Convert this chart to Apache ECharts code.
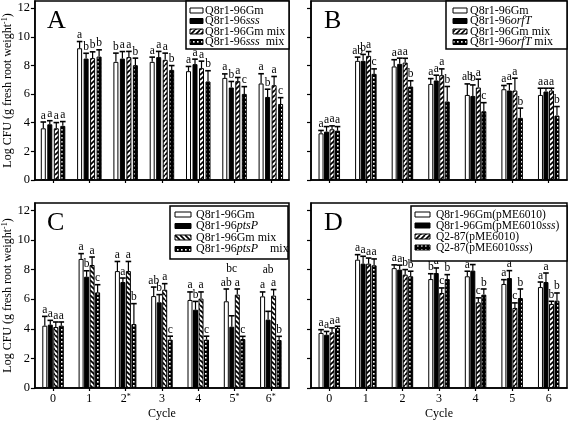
<!DOCTYPE html>
<html><head><meta charset="utf-8">
<script src="https://cdn.jsdelivr.net/npm/echarts@6/dist/echarts.min.js"></script>
<style>html,body{margin:0;padding:0;background:#fff}#c{width:568px;height:421px}</style>
</head><body><div id="c"></div>
<script>
// ---------- DATA ----------
const cycles = ['0','1','2','3','4','5','6'];
const cyclesC = ['0','1','2*','3','4','5*','6*'];
const yTicks = [0,2,4,6,8,10,12];

// Panel A
const A_gm      = [3.61, 9.20, 8.25, 8.25, 7.60, 7.13, 6.74];
const A_sss     = [3.89, 8.48, 8.48, 8.58, 8.09, 6.46, 5.80];
const A_gmMix   = [3.61, 8.51, 8.58, 8.39, 7.81, 6.90, 6.62];
const A_sssMix  = [3.78, 8.62, 8.02, 7.69, 6.88, 6.01, 5.31];
const A_gm_err     = [0.44, 0.47, 0.61, 0.33, 0.33, 0.28, 0.68];
const A_sss_err    = [0.25, 0.37, 0.49, 0.40, 0.35, 0.42, 0.54];
const A_gmMix_err  = [0.40, 0.44, 0.40, 0.47, 0.49, 0.26, 0.61];
const A_sssMix_err = [0.30, 0.47, 0.49, 0.30, 0.75, 0.51, 0.44];
const A_gm_let     = ['a','a','b','a','a','a','a'];
const A_sss_let    = ['a','b','a','a','a','b','b'];
const A_gmMix_let  = ['a','b','a','a','a','a','a'];
const A_sssMix_let = ['a','b','b','b','b','c','c'];

// Panel B
const B_gm      = [3.26, 8.32, 7.93, 6.71, 5.94, 6.34, 5.94];
const B_orf     = [3.38, 8.32, 8.11, 6.95, 5.87, 6.25, 6.18];
const B_gmMix   = [3.54, 8.67, 8.20, 7.32, 6.46, 6.25, 6.25];
const B_orfMix  = [3.45, 7.41, 6.53, 5.48, 4.80, 4.34, 4.50];
const B_gm_err     = [0.20, 0.26, 0.47, 0.37, 0.77, 0.26, 0.47];
const B_orf_err    = [0.35, 0.45, 0.40, 0.37, 0.77, 0.47, 0.23];
const B_gmMix_err  = [0.24, 0.30, 0.30, 0.44, 0.58, 0.86, 0.16];
const B_orfMix_err = [0.28, 0.35, 0.40, 1.05, 0.60, 0.68, 0.63];
const B_gm_let     = ['a','ab','a','a','ab','a','a'];
const B_orf_let    = ['a','b','a','a','b','a','a'];
const B_gmMix_let  = ['a','a','a','a','a','a','a'];
const B_orfMix_let = ['a','c','b','b','c','b','b'];

// Panel C
const C_gm      = [4.21, 8.72, 7.90, 6.21, 5.95, 5.86, 6.19];
const C_pts     = [4.28, 7.52, 7.16, 5.79, 5.29, 4.14, 4.62];
const C_gmMix   = [4.12, 8.31, 7.90, 6.64, 6.04, 6.31, 6.24];
const C_ptsMix  = [4.21, 6.46, 4.32, 3.27, 3.27, 3.31, 3.24];
const C_gm_err     = [0.63, 0.36, 0.65, 0.61, 0.54, 0.83, 0.30];
const C_pts_err    = [0.29, 0.40, 0.27, 0.52, 0.56, 0.74, 0.56];
const C_gmMix_err  = [0.34, 0.54, 0.65, 0.41, 0.45, 0.38, 0.41];
const C_ptsMix_err = [0.25, 0.52, 1.38, 0.23, 0.23, 0.18, 0.25];
const C_gm_let     = ['a','a','a','ab','a','ab','a'];
const C_pts_let    = ['a','b','a','b','b','bc','ab'];
const C_gmMix_let  = ['a','a','a','a','a','a','a'];
const C_ptsMix_let = ['a','c','b','c','c','c','b'];

// Panel D
const D_gm      = [3.72, 8.67, 8.10, 7.36, 7.55, 7.03, 6.82];
const D_gmSss   = [3.60, 8.40, 8.00, 7.77, 7.93, 7.43, 7.16];
const D_q2      = [3.76, 8.40, 7.66, 6.42, 5.79, 5.41, 5.68];
const D_q2Sss   = [4.05, 8.29, 7.55, 7.36, 6.31, 6.08, 5.90];
const D_gm_err     = [0.22, 0.34, 0.22, 0.36, 0.34, 0.29, 0.34];
const D_gmSss_err  = [0.22, 0.50, 0.30, 0.34, 0.41, 0.50, 0.61];
const D_q2_err     = [0.30, 0.38, 0.34, 0.34, 0.30, 0.34, 0.18];
const D_q2Sss_err  = [0.12, 0.43, 0.34, 0.30, 0.38, 0.61, 0.52];
const D_gm_let     = ['a','a','a','b','a','a','a'];
const D_gmSss_let  = ['a','a','a','a','a','a','a'];
const D_q2_let     = ['a','a','b','c','c','c','b'];
const D_q2Sss_let  = ['a','a','b','b','b','b','b'];

// ---------- STYLE / LAYOUT ----------
const FF = '"Liberation Serif","Times New Roman",serif';
function hatch(dir){
  const s = 5, c = document.createElement('canvas'); c.width = s; c.height = s;
  const g = c.getContext('2d'); g.fillStyle = '#fff'; g.fillRect(0,0,s,s);
  g.strokeStyle = '#000'; g.lineWidth = 1.7; g.beginPath();
  if (dir > 0) { for (let o=-s; o<=s; o+=s){ g.moveTo(o, s); g.lineTo(o+s, 0); } }
  else { for (let o=-s; o<=s; o+=s){ g.moveTo(o, 0); g.lineTo(o+s, s); } }
  g.stroke(); return c;
}
function dots(){
  const c = document.createElement('canvas'); c.width = 4; c.height = 4;
  const g = c.getContext('2d'); g.fillStyle = '#000'; g.fillRect(0,0,4,4);
  g.fillStyle = '#fff'; g.fillRect(1,1,1.6,1.6); return c;
}
const PAT_H = {image: hatch(1), repeat: 'repeat'};
const PAT_HB = {image: hatch(-1), repeat: 'repeat'};
const PAT_D = {image: dots(), repeat: 'repeat'};

const panels = [
  { key:'A', grid:{left:34, top:1, width:255, height:179}, cats:cycles, showX:false, showY:true, gap:0.3,
    vals:[A_gm,A_sss,A_gmMix,A_sssMix], errs:[A_gm_err,A_sss_err,A_gmMix_err,A_sssMix_err],
    lets:[A_gm_let,A_sss_let,A_gmMix_let,A_sssMix_let], fills:['#fff','#000',PAT_H,PAT_D],
    legend:{box:[186,1,103,48], sw:[190,13], tx:205, rows:[10.5,21,31.5,42], fs:12,
      texts:['Q8r1-96Gm','Q8r1-96{i|sss}','Q8r1-96Gm mix','Q8r1-96{i|sss}  mix']}, label:'A' },
  { key:'B', grid:{left:311, top:1, width:256, height:179}, cats:cycles, showX:false, showY:false, gap:0.1,
    vals:[B_gm,B_orf,B_gmMix,B_orfMix], errs:[B_gm_err,B_orf_err,B_gmMix_err,B_orfMix_err],
    lets:[B_gm_let,B_orf_let,B_gmMix_let,B_orfMix_let], fills:['#fff','#000',PAT_H,PAT_D],
    legend:{box:[446,1,121,48], sw:[453,14], tx:470, rows:[10.5,21,31.5,42], fs:12,
      texts:['Q8r1-96Gm','Q8r1-96{i|orfT}','Q8r1-96Gm mix','Q8r1-96{i|orfT} mix']}, label:'B' },
  { key:'C', grid:{left:34, top:203, width:255, height:185}, cats:cyclesC, showX:true, showY:true, gap:0.1,
    vals:[C_gm,C_pts,C_gmMix,C_ptsMix], errs:[C_gm_err,C_pts_err,C_gmMix_err,C_ptsMix_err],
    lets:[C_gm_let,C_pts_let,C_gmMix_let,C_ptsMix_let], fills:['#fff','#000',PAT_HB,PAT_D],
    raise:{'1-5':7.65,'1-6':7.55},
    legend:{box:[170,206,118,53], sw:[175,16], tx:196, rows:[214.5,226,237.5,249], fs:12,
      texts:['Q8r1-96Gm','Q8r1-96{i|ptsP}','Q8r1-96Gm mix','Q8r1-96{i|ptsP}    mix']}, label:'C' },
  { key:'D', grid:{left:311, top:203, width:256, height:185}, cats:cycles, showX:true, showY:false, gap:0.1,
    vals:[D_gm,D_gmSss,D_q2,D_q2Sss], errs:[D_gm_err,D_gmSss_err,D_q2_err,D_q2Sss_err],
    lets:[D_gm_let,D_gmSss_let,D_q2_let,D_q2Sss_let], fills:['#fff','#000',PAT_H,PAT_D],
    legend:{box:[411,206,156,55], sw:[415,15], tx:436, rows:[214.5,225.5,236.5,247.5], fs:11.5,
      texts:['Q8r1-96Gm(pME6010)','Q8r1-96Gm(pME6010{i|sss})','Q2-87(pME6010)','Q2-87(pME6010{i|sss})']}, label:'D' }
];

const BW = 5;
const option = {
  animation:false, backgroundColor:'#fff',
  textStyle:{fontFamily:FF},
  grid:[], xAxis:[], yAxis:[], series:[], graphic:[]
};

panels.forEach((p, pi) => {
  option.grid.push(Object.assign({show:true, borderColor:'#000', borderWidth:1.5, backgroundColor:'transparent'}, p.grid));
  option.xAxis.push({
    type:'category', gridIndex:pi, data:p.cats,
    axisLine:{lineStyle:{color:'#000', width:1.5}},
    axisTick:{show:true, alignWithLabel:true, interval:0, length:3, lineStyle:{color:'#000', width:1.2}},
    axisLabel:{show:p.showX, interval:0, margin:5, color:'#000', fontFamily:FF, fontSize:12,
      formatter:(v)=> v.endsWith('*') ? v.slice(0,-1)+'{s|*}' : v,
      rich:{s:{fontSize:8, verticalAlign:'top', fontFamily:FF, color:'#000', padding:[0,0,4,0]}}},
    name: p.showX ? 'Cycle' : '', nameLocation:'middle', nameGap:20,
    nameTextStyle:{color:'#000', fontFamily:FF, fontSize:12}
  });
  option.yAxis.push({
    type:'value', gridIndex:pi, min:0, max:12.5, interval:2,
    splitLine:{show:false},
    axisLine:{show:true, lineStyle:{color:'#000', width:1.5}},
    axisTick:{show:true, length:4, customValues:yTicks, lineStyle:{color:'#000', width:1.2}},
    axisLabel:{show:p.showY, customValues:yTicks, margin:5, color:'#000', fontFamily:FF, fontSize:12.5,
      formatter:(v)=> (v % 2 === 0 ? String(v) : '')},
    name: p.showY ? 'Log CFU (g fresh root weight{s|-1})' : '', nameLocation:'middle', nameGap:18,
    nameTextStyle:{color:'#000', fontFamily:FF, fontSize:12,
      rich:{s:{fontSize:8, verticalAlign:'top', fontFamily:FF, color:'#000', padding:[0,0,5,0]}}}
  });
  const items = [];
  p.vals.forEach((vals, k) => {
    option.series.push({
      type:'bar', name:p.key+k, xAxisIndex:pi, yAxisIndex:pi, data:vals,
      barWidth:BW, barGap:(p.gap*100)+'%',
      itemStyle:{color:p.fills[k], borderColor:'#000', borderWidth:1},
      silent:true
    });
    vals.forEach((v, i) => items.push({cat:i, k, val:v, err:p.errs[k][i], letter:p.lets[k][i],
      labelVal:(p.raise && p.raise[k+'-'+i]) || null}));
  });
  const step = BW * (1 + p.gap);
  option.series.push({
    type:'custom', xAxisIndex:pi, yAxisIndex:pi, silent:true, clip:false, z:5,
    data: items.map(it => [it.cat, it.val + it.err]),
    encode:{x:0, y:1},
    renderItem:(params, api) => {
      const it = items[params.dataIndex];
      const base = api.coord([it.cat, it.val]);
      const top = api.coord([it.cat, it.val + it.err]);
      const x = base[0] + (it.k - 1.5) * step;
      const cap = 2.8;
      const ly = it.labelVal != null ? api.coord([it.cat, it.labelVal])[1] : top[1] - 0.5;
      return {type:'group', children:[
        {type:'line', shape:{x1:x, y1:base[1], x2:x, y2:top[1]}, style:{stroke:'#000', lineWidth:1.2}},
        {type:'line', shape:{x1:x-cap, y1:top[1], x2:x+cap, y2:top[1]}, style:{stroke:'#000', lineWidth:1.6}},
        {type:'text', x:x, y:ly, style:{text:it.letter, fontFamily:FF, fontSize:11.5, fill:'#000',
          align:'center', verticalAlign:'bottom', textAlign:'center', textVerticalAlign:'bottom'}}
      ]};
    }
  });
  // panel letter
  option.graphic.push({type:'text', left:p.grid.left + 13, top:p.grid.top + 7,
    style:{text:p.label, fontFamily:FF, fontSize:26, fill:'#000'}});
  // legend box
  const L = p.legend;
  option.graphic.push({type:'rect', shape:{x:L.box[0], y:L.box[1], width:L.box[2], height:L.box[3]},
    style:{fill:'#fff', stroke:'#000', lineWidth:1.5}, z:10});
  L.rows.forEach((ry, k) => {
    option.graphic.push({type:'rect', shape:{x:L.sw[0], y:ry-2.5, width:L.sw[1], height:5},
      style:{fill:p.fills[k], stroke:'#000', lineWidth:1}, z:11});
    option.graphic.push({type:'text', x:L.tx, y:ry, z:11,
      style:{text:L.texts[k], fontFamily:FF, fontSize:L.fs, fill:'#000', verticalAlign:'middle', textVerticalAlign:'middle',
        rich:{i:{fontStyle:'italic', fontFamily:FF, fontSize:L.fs, fill:'#000', color:'#000'}}}});
  });
});

const chart = echarts.init(document.getElementById('c'), null, {renderer:'canvas'});
chart.setOption(option);
</script>
</body></html>
